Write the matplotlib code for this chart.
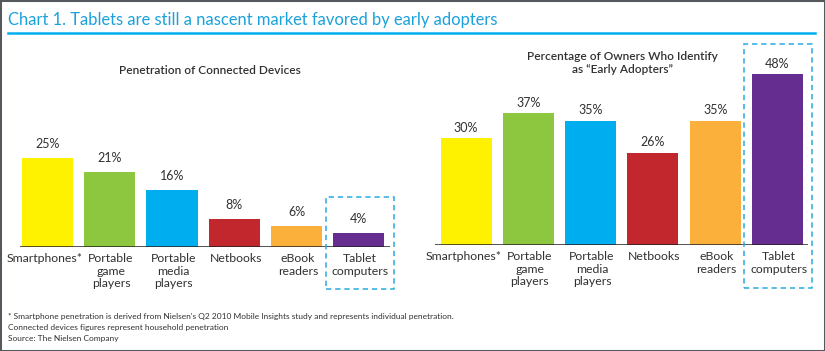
import matplotlib
matplotlib.use("Agg")
import matplotlib.pyplot as plt
from matplotlib.patches import Rectangle
from matplotlib.lines import Line2D

categories = ["Smartphones*", "Portable\ngame\nplayers", "Portable\nmedia\nplayers",
              "Netbooks", "eBook\nreaders", "Tablet\ncomputers"]
penetration = [25, 21, 16, 8, 6, 4]
early_adopters = [30, 37, 35, 26, 35, 48]
colors = ["#FFF200", "#8DC63F", "#00AEEF", "#C1272D", "#FBB03B", "#662D91"]

title = "Chart 1. Tablets are still a nascent market favored by early adopters"
left_title = "Penetration of Connected Devices"
right_title = "Percentage of Owners Who Identify\nas \u201cEarly Adopters\u201d"
footnotes = ["* Smartphone penetration is derived from Nielsen's Q2 2010 Mobile Insights study and represents individual penetration.",
             "Connected devices figures represent household penetration",
             "Source: The Nielsen Company"]

plt.rcParams['font.family'] = ['Lato', 'DejaVu Sans']
TXT = "#333030"
BLUE = "#1BA1DB"

W, H = 825, 351
fig = plt.figure(figsize=(W / 100, H / 100), dpi=100)

def fx(px):
    return px / W

def fy(py):
    return 1 - py / H

# frame
fig.patches.append(Rectangle((0, 0), 1, 1, transform=fig.transFigure, fill=False,
                             edgecolor="#55585c", linewidth=2.2, clip_on=False))
fig.text(fx(8), fy(20), title, color=BLUE, fontsize=11.9, va="center", ha="left")
fig.lines.append(Line2D([fx(8), fx(815)], [fy(33), fy(33)], transform=fig.transFigure,
                        color="#00AEEF", linewidth=1.8))

pxp = 3.556  # px per percent

def make_axes(x0, x1, base, xlo, xhi, ymax=50):
    width = x1 - x0
    height = ymax * pxp
    ax = fig.add_axes([fx(x0), fy(base), width / W, height / H])
    ax.set_xlim(xlo, xhi)
    ax.set_ylim(0, ymax)
    for s in ax.spines.values():
        s.set_visible(False)
    ax.set_yticks([])
    ax.set_xticks([])
    ax.patch.set_alpha(0)
    return ax

def draw(ax, values, label_offset):
    x = range(len(values))
    ax.bar(x, values, width=0.82, color=colors, zorder=2)
    ax.axhline(0, color="#231F20", linewidth=1.8, zorder=3)
    for xi, v, c in zip(x, values, categories):
        ax.annotate(f"{v}%", (xi, v), xytext=(0, label_offset), textcoords="offset points",
                    ha="center", va="center", fontsize=9, color=TXT)
        dx = -2 if xi == 0 else 1
        ax.annotate(c, (xi, 0), xytext=(dx, -4.5), textcoords="offset points",
                    ha="center", va="top", fontsize=8.8, color=TXT, linespacing=1.15)

axL = make_axes(20, 390, 247, -0.44, 5.5)
draw(axL, penetration, 10)
axR = make_axes(435, 808, 245, -0.5, 5.49)
draw(axR, early_adopters, 7.5)

fig.text(fx(210), fy(70), left_title, ha="center", va="center", fontsize=8.6,
         color=TXT, fontweight="semibold")
fig.text(fx(622), fy(63), right_title, ha="center", va="center", fontsize=8.6,
         color=TXT, fontweight="semibold", linespacing=1.25)

# dashed highlight boxes
for (x0, y0, x1, y1) in [(326, 197, 394, 289), (744, 44, 812, 288)]:
    fig.patches.append(Rectangle((fx(x0), fy(y1)), (x1 - x0) / W, (y1 - y0) / H,
                                 transform=fig.transFigure, fill=False,
                                 edgecolor="#29ABE2", linewidth=1.1, linestyle=(0, (3.5, 2.5))))

for i, line in enumerate(footnotes):
    fig.text(fx(8), fy(316 + i * 11.5), line, ha="left", va="center", fontsize=6.05,
             color=TXT)

fig.savefig("out.png", dpi=100)
